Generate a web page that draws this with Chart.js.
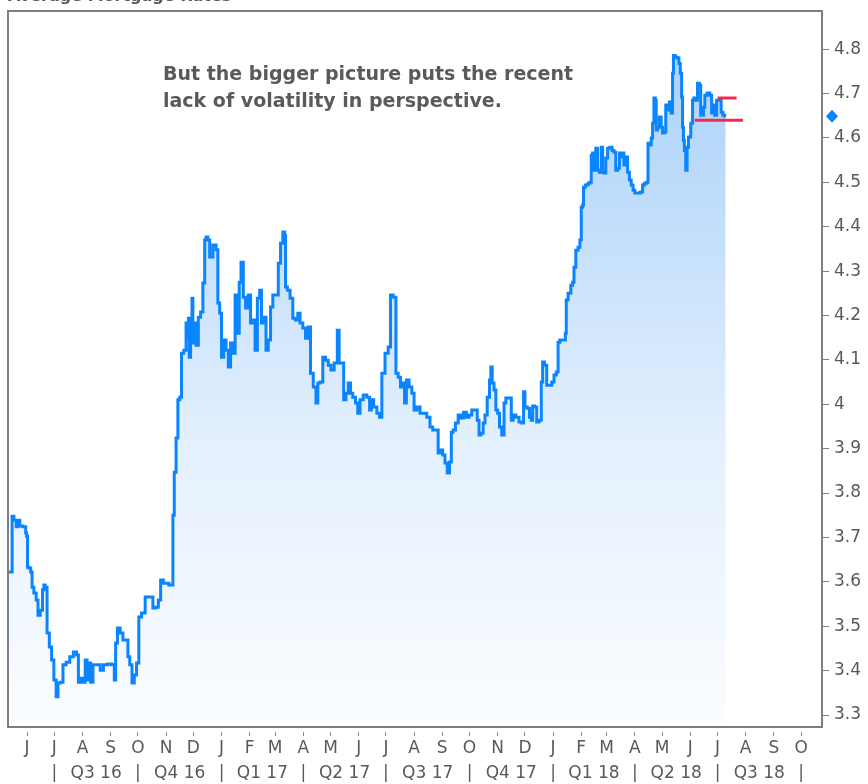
<!DOCTYPE html>
<html>
<head>
<meta charset="utf-8">
<script src="https://cdn.jsdelivr.net/npm/chart.js@4.4.1/dist/chart.umd.min.js"></script>
<style>
html,body{margin:0;padding:0;background:#fff;}
canvas{display:block;}
</style>
</head>
<body>
<canvas id="c" width="868" height="784"></canvas>
<script>
// ---------------- DATA ----------------
const BASE_DATE = '2016-06-01';           // day 0 for the "days" array
const X_MIN_DATE = '2016-05-11';
const X_MAX_DATE = '2018-10-24';

// days since BASE_DATE
const days = [-21,-17,-16,-13,-11,-9,-7,-2,-1,0,1,3,5,6,9,11,13,16,18,19,21,23,26,28,31,33,35,38,41,45,
49,53,56,57,60,63,65,67,69,71,74,79,82,86,91,95,97,98,101,104,107,110,112,114,117,119,122,124,128,132,
137,140,143,146,148,152,160,161,163,165,167,169,171,174,176,177,178,179,181,182,183,185,187,190,192,195,196,198,200,202,
207,209,211,213,215,218,220,223,225,228,230,233,234,237,239,242,245,247,250,252,255,257,259,262,264,267,269,272,275,278,
280,283,284,285,288,291,294,297,299,302,305,308,311,313,317,319,321,324,327,330,333,336,340,343,344,347,350,352,355,357,
360,363,365,368,372,376,378,380,383,387,389,392,396,399,401,405,407,410,412,415,416,419,422,425,427,431,434,438,442,445,
448,451,454,456,459,461,464,466,468,470,473,476,479,482,485,488,491,494,497,498,501,503,505,508,510,511,513,515,517,519,
521,524,526,528,532,534,536,540,543,546,547,549,552,554,556,557,560,562,565,567,568,571,573,576,579,581,584,585,588,592,
593,594,597,600,601,603,605,608,609,611,612,613,616,619,620,622,623,625,627,629,631,633,634,636,638,640,643,645,647,649,
651,653,655,656,658,660,662,664,666,668,670,673,677,678,681,683,684,686,688,689,691,692,693,695,697,699,700,702,704,706,
708,710,711,712,715,717,718,720,721,722,723,724,726,727,729,732,733,735,737,739,741,742,744,745,747,750,753,754,756,758,
760,763,765,767,769];

// average 30-yr fixed mortgage rate (%)
const rates = [3.622,3.622,3.748,3.739,3.724,3.739,3.726,3.724,3.71,3.703,3.633,3.631,3.622,3.588,3.575,3.559,3.525,3.536,3.582,3.593,3.588,3.485,3.453,3.424,3.379,3.341,3.372,3.374,3.413,3.419,
3.431,3.442,3.435,3.374,3.383,3.374,3.424,3.379,3.417,3.374,3.413,3.413,3.401,3.413,3.415,3.413,3.379,3.462,3.496,3.485,3.469,3.469,3.431,3.413,3.372,3.39,3.417,3.521,3.53,3.566,
3.566,3.541,3.543,3.559,3.604,3.597,3.593,3.75,3.847,3.924,4.01,4.016,4.115,4.122,4.183,4.151,4.194,4.106,4.167,4.239,4.138,4.183,4.133,4.196,4.208,4.273,4.37,4.377,4.37,4.332,
4.359,4.348,4.228,4.205,4.106,4.145,4.122,4.084,4.138,4.115,4.246,4.16,4.275,4.32,4.241,4.217,4.246,4.183,4.19,4.122,4.239,4.257,4.183,4.196,4.122,4.145,4.219,4.246,4.246,4.318,
4.363,4.388,4.381,4.264,4.257,4.239,4.194,4.19,4.205,4.183,4.172,4.149,4.174,4.07,4.039,4.003,4.048,4.05,4.106,4.099,4.088,4.077,4.093,4.167,4.093,4.093,4.01,4.025,4.048,4.025,
4.016,4.003,3.98,4.01,4.021,4.016,3.987,4.01,3.994,3.98,3.971,4.07,4.115,4.129,4.246,4.241,4.07,4.061,4.039,4.048,4.003,4.055,4.039,4.025,3.987,3.994,3.98,3.98,3.971,3.949,
3.942,3.942,3.89,3.897,3.886,3.868,3.845,3.87,3.937,3.942,3.958,3.976,3.969,3.982,3.971,3.976,3.987,3.987,3.964,3.931,3.935,3.958,3.976,4.016,4.055,4.084,4.048,4.032,3.987,3.98,
3.949,3.931,4.003,4.014,4.014,3.964,3.976,3.971,3.96,3.958,4.028,3.994,3.991,3.971,3.964,3.996,3.994,3.96,3.964,4.05,4.095,4.088,4.043,4.043,4.05,4.066,4.073,4.14,4.145,4.145,
4.16,4.235,4.25,4.268,4.275,4.309,4.347,4.354,4.37,4.444,4.449,4.489,4.494,4.498,4.5,4.561,4.566,4.527,4.577,4.527,4.523,4.579,4.523,4.521,4.555,4.577,4.579,4.572,4.568,4.527,
4.532,4.566,4.557,4.566,4.539,4.557,4.523,4.505,4.494,4.482,4.476,4.476,4.478,4.494,4.498,4.5,4.588,4.584,4.6,4.633,4.69,4.685,4.618,4.624,4.647,4.624,4.611,4.613,4.674,4.663,
4.681,4.656,4.746,4.786,4.782,4.78,4.768,4.746,4.692,4.624,4.595,4.572,4.527,4.579,4.602,4.633,4.685,4.69,4.685,4.723,4.719,4.651,4.651,4.669,4.696,4.701,4.696,4.656,4.674,4.651,
4.685,4.685,4.658,4.651,4.649];

// recent trading range markers
const rangeHighDates = ['2018-07-01', '2018-07-22'];
const rangeHighValue = 4.69;
const rangeLowDates = ['2018-06-06', '2018-07-29'];
const rangeLowValue = 4.64;

// axis ticks
const yTicks = [3.3,3.4,3.5,3.6,3.7,3.8,3.9,4.0,4.1,4.2,4.3,4.4,4.5,4.6,4.7,4.8];
const yTickLabels = ['3.3','3.4','3.5','3.6','3.7','3.8','3.9','4','4.1','4.2','4.3','4.4','4.5','4.6','4.7','4.8'];
const monthStarts = ['2016-06-01','2016-07-01','2016-08-01','2016-09-01','2016-10-01','2016-11-01','2016-12-01',
  '2017-01-01','2017-02-01','2017-03-01','2017-04-01','2017-05-01','2017-06-01','2017-07-01','2017-08-01','2017-09-01','2017-10-01','2017-11-01','2017-12-01',
  '2018-01-01','2018-02-01','2018-03-01','2018-04-01','2018-05-01','2018-06-01','2018-07-01','2018-08-01','2018-09-01','2018-10-01'];
const monthLabels = ['J','J','A','S','O','N','D','J','F','M','A','M','J','J','A','S','O','N','D','J','F','M','A','M','J','J','A','S','O'];
const quarterStarts = ['2016-07-01','2016-10-01','2017-01-01','2017-04-01','2017-07-01','2017-10-01','2018-01-01','2018-04-01','2018-07-01','2018-10-01'];
const quarterLabels = ['Q3 16','Q4 16','Q1 17','Q2 17','Q3 17','Q4 17','Q1 18','Q2 18','Q3 18'];

const titleText = 'Average Mortgage Rates';
const noteLines = ['But the bigger picture puts the recent', 'lack of volatility in perspective.'];

// ---------------- HELPERS ----------------
function dayOf(iso) {
  const [y, m, d] = iso.split('-').map(Number);
  const [by, bm, bd] = BASE_DATE.split('-').map(Number);
  return Math.round((Date.UTC(y, m - 1, d) - Date.UTC(by, bm - 1, bd)) / 86400000);
}

const quarterTicks = [];
quarterStarts.forEach((q, i) => {
  quarterTicks.push({ value: dayOf(q), label: '|' });
  if (i < quarterLabels.length) {
    quarterTicks.push({ value: (dayOf(q) + dayOf(quarterStarts[i + 1])) / 2, label: quarterLabels[i] });
  }
});

const TEXT = '#595959';
const FONT = '"DejaVu Sans", Verdana, sans-serif';

function fillGradient(context) {
  const chart = context.chart;
  const area = chart.chartArea;
  if (!area) return 'rgba(180,215,250,0.5)';
  const g = chart.ctx.createLinearGradient(0, area.top, 0, area.bottom);
  g.addColorStop(0, '#a8d0fa');
  g.addColorStop(0.27, '#c0ddfb');
  g.addColorStop(0.61, '#e4f0fd');
  g.addColorStop(1, '#fbfdff');
  return g;
}

const framePlugin = {
  id: 'frame',
  afterDatasetsDraw(chart) {
    const { ctx, chartArea: a } = chart;
    ctx.save();
    ctx.strokeStyle = '#7f7f7f';
    ctx.lineWidth = 2;
    ctx.strokeRect(a.left, a.top, a.right - a.left, a.bottom - a.top);
    ctx.restore();
  },
  afterDraw(chart) {
    const { ctx, chartArea: a, scales } = chart;
    ctx.save();
    // cut-off title at the very top
    ctx.fillStyle = TEXT;
    ctx.font = 'bold 16px ' + FONT;
    ctx.textBaseline = 'alphabetic';
    ctx.fillText(titleText, a.left, 1);
    // annotation
    ctx.font = 'bold 19px ' + FONT;
    ctx.fillStyle = '#5a5a5a';
    ctx.fillText(noteLines[0], 163, 80);
    ctx.fillText(noteLines[1], 163, 107);
    // last value diamond on the right axis
    const yv = scales.y.getPixelForValue(rates[rates.length - 1]);
    const xv = a.right + 10;
    ctx.fillStyle = '#0a84ff';
    ctx.beginPath();
    ctx.moveTo(xv, yv - 6.5);
    ctx.lineTo(xv + 6, yv);
    ctx.lineTo(xv, yv + 6.5);
    ctx.lineTo(xv - 6, yv);
    ctx.closePath();
    ctx.fill();
    ctx.restore();
  }
};

new Chart(document.getElementById('c'), {
  type: 'line',
  data: {
    datasets: [
      {
        label: 'Rate',
        data: days.map((d, i) => ({ x: d, y: rates[i] })),
        borderColor: '#0a84ff',
        borderWidth: 3,
        pointRadius: 0,
        stepped: 'middle',
        fill: 'start',
        backgroundColor: fillGradient,
        order: 3
      },
      {
        label: 'High',
        data: rangeHighDates.map(d => ({ x: dayOf(d), y: rangeHighValue })),
        borderColor: '#f22b4e',
        borderWidth: 3,
        pointRadius: 0,
        fill: false,
        order: 1
      },
      {
        label: 'Low',
        data: rangeLowDates.map(d => ({ x: dayOf(d), y: rangeLowValue })),
        borderColor: '#f22b4e',
        borderWidth: 3,
        pointRadius: 0,
        fill: false,
        order: 1
      }
    ]
  },
  options: {
    responsive: false,
    animation: false,
    devicePixelRatio: 1,
    layout: { autoPadding: false, padding: { left: 8, top: 11, right: 0, bottom: 0 } },
    plugins: { legend: { display: false }, tooltip: { enabled: false }, title: { display: false } },
    scales: {
      x: {
        type: 'linear',
        position: 'bottom',
        min: dayOf(X_MIN_DATE),
        max: dayOf(X_MAX_DATE),
        afterBuildTicks: s => { s.ticks = monthStarts.map(d => ({ value: dayOf(d) })); },
        afterFit: s => { s.height = 30; s.paddingLeft = 0; s.paddingRight = 0; },
        border: { display: false },
        grid: { drawOnChartArea: false, drawTicks: true, tickLength: 9, tickColor: '#8c8c8c', tickWidth: 1, tickBorderDash: [0, 5, 4, 20] },
        ticks: {
          autoSkip: false, maxRotation: 0, minRotation: 0, padding: 2,
          color: TEXT, font: { family: FONT, size: 17 },
          callback: (v, i) => monthLabels[i]
        }
      },
      x2: {
        type: 'linear',
        axis: 'x',
        position: 'bottom',
        min: dayOf(X_MIN_DATE),
        max: dayOf(X_MAX_DATE),
        afterBuildTicks: s => { s.ticks = quarterTicks.map(t => ({ value: t.value })); },
        afterFit: s => { s.height = 27; s.paddingLeft = 0; s.paddingRight = 0; },
        border: { display: false },
        grid: { display: false, drawTicks: false },
        ticks: {
          autoSkip: false, maxRotation: 0, minRotation: 0, padding: 6,
          color: TEXT, font: { family: FONT, size: 17 },
          callback: (v, i) => quarterTicks[i].label
        }
      },
      y: {
        type: 'linear',
        position: 'right',
        min: 3.273,
        max: 4.886,
        afterBuildTicks: s => { s.ticks = yTicks.map(v => ({ value: v })); },
        afterFit: s => { s.width = 46; s.paddingTop = 0; s.paddingBottom = 0; },
        border: { display: false },
        grid: { drawOnChartArea: false, drawTicks: true, tickLength: 7, tickColor: '#7f7f7f', tickWidth: 1 },
        ticks: {
          padding: 5, color: TEXT, font: { family: FONT, size: 17 },
          callback: (v, i) => yTickLabels[i]
        }
      }
    }
  },
  plugins: [framePlugin]
});
</script>
</body>
</html>
